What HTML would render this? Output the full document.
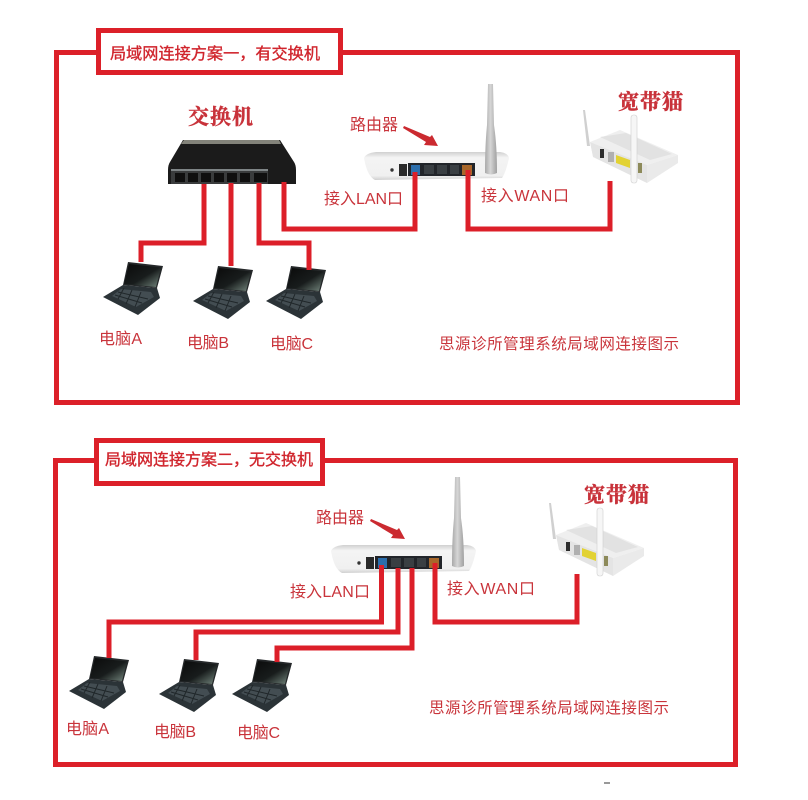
<!DOCTYPE html>
<html><head><meta charset="utf-8"><style>
html,body{margin:0;padding:0;background:#fff}
svg{display:block}
text{font-family:"Liberation Sans","Noto Sans CJK SC",sans-serif;fill:#c9343b}
.t{font-size:16px;font-weight:400;fill:#d0252d;stroke:#d0252d;stroke-width:.35}
.b{font-family:"Noto Serif CJK SC","Liberation Serif",serif;font-size:21px;font-weight:700;fill:#c8323a;stroke:#c8323a;stroke-width:.4}
.l{font-size:16px}
.w{fill:none;stroke:#dc1f29;stroke-width:5;stroke-linejoin:miter}
.f{fill:none;stroke:#dc2029;stroke-width:5}
.bx{fill:#fff;stroke:#dc2029;stroke-width:5}
</style></head><body>
<svg xmlns="http://www.w3.org/2000/svg" width="808" height="800" viewBox="0 0 808 800">
<defs>
<linearGradient id="scr" x1="0" y1="0" x2="1" y2="1"><stop offset="0" stop-color="#0a0a0a"/><stop offset=".55" stop-color="#181c1c"/><stop offset="1" stop-color="#75887f"/></linearGradient>
<linearGradient id="ant" x1="0" y1="0" x2="1" y2="0"><stop offset="0" stop-color="#a8a8a8"/><stop offset=".45" stop-color="#d6d6d6"/><stop offset="1" stop-color="#a0a0a0"/></linearGradient>
<linearGradient id="rb" x1="0" y1="0" x2="0" y2="1"><stop offset="0" stop-color="#d0d0d0"/><stop offset=".2" stop-color="#f4f4f4"/><stop offset=".85" stop-color="#f0f0f0"/><stop offset="1" stop-color="#cfcfcf"/></linearGradient>
<g id="laptop">
<polygon points="-4,22 30,25 33,35 11,52 -24,34" fill="#2b3337"/>
<polygon points="1,-1 36,3 30,25 -4,22" fill="#25282a"/>
<polygon points="2,1 34,4.500 29,24 -3,21" fill="url(#scr)"/>
<polygon points="-6,26 24,29 27,34 9,44 -15,33" fill="#434d52"/>
<g stroke="#20272a" stroke-width="1"><path d="M-9 29L21 36M-12 32L15 40M-3 25L-9 36M5 27L-1 41M14 29L8 44"/></g>
</g>
<g id="router">
<path d="M364 158Q366 153 376 152L500 152Q508 153 509 158Q506 172 502 178L375 180Q367 176 364 158Z" fill="url(#rb)"/>
<rect x="399" y="164" width="8" height="12" fill="#2a2a2a"/>
<circle cx="392" cy="170" r="1.700" fill="#333"/>
<rect x="408" y="163" width="67" height="13" fill="#22252a"/>
<rect x="411" y="165" width="9" height="10" fill="#2c6fad"/>
<rect x="424" y="165" width="10" height="9" fill="#3a3f43"/>
<rect x="437" y="165" width="10" height="9" fill="#3a3f43"/>
<rect x="450" y="165" width="9" height="9" fill="#3a3f43"/>
<rect x="462" y="165" width="10" height="10" fill="#a8672a"/>
<path d="M488 84H493L494 125Q497 145 497 173Q491 176 485 173Q485 145 487 125Z" fill="url(#ant)"/>
<polygon points="404,126 430,137 432,135 438,146 424,145 426,142 403,128" fill="#cb2a30"/>
</g>
<g id="modem">
<polygon points="590,142 620,130 678,155 647,165" fill="#efefef"/>
<polygon points="647,165 678,155 678,163 647,183" fill="#eaeaea"/>
<polygon points="590,142 647,165 647,183 593,157" fill="#e4e4e4"/>
<polygon points="600,137 626,133 672,154 650,160" fill="#e2e2e2"/>
<rect x="600" y="149" width="4" height="9" fill="#2c2c2c"/>
<rect x="608" y="152" width="6" height="10" fill="#b0b0b0"/>
<polygon points="616,155 630,160 630,168 616,163" fill="#e2d233"/>
<rect x="638" y="163" width="4" height="10" fill="#8d8a5a"/>
<polygon points="583,110 585,110 590,146 587,146" fill="#d0d0d0"/>
<rect x="631" y="115" width="6" height="68" rx="2.500" fill="#f6f6f6" stroke="#cfcfcf" stroke-width=".6"/>
</g>
</defs>
<rect width="808" height="800" fill="#fff"/>

<rect class="f" x="56.500" y="52.500" width="681" height="350"/>
<rect class="bx" x="98.500" y="30.500" width="242" height="42"/>
<text class="t" x="110" y="59" textLength="210" lengthAdjust="spacingAndGlyphs">局域网连接方案一，有交换机</text>
<text class="b" x="188" y="124" textLength="65">交换机</text>

<path d="M183 140H280L294 162Q296 165 296 170V184H168V170Q168 165 170 162Z" fill="#1b1b1b"/>
<polygon points="184,140 279,140 281,144 181,144" fill="#83837a"/>
<rect x="171" y="169" width="97" height="15" fill="#3a3c3d"/>
<g fill="#0f0f0f"><rect x="175" y="173" width="10" height="9"/><rect x="188" y="173" width="10" height="9"/><rect x="201" y="173" width="10" height="9"/><rect x="214" y="173" width="10" height="9"/><rect x="227" y="173" width="10" height="9"/><rect x="240" y="173" width="10" height="9"/><rect x="254" y="173" width="13" height="9"/></g>
<rect x="171" y="169" width="97" height="2" fill="#7e8486"/>

<use href="#router"/>
<use href="#modem"/>
<use href="#laptop" x="127" y="263"/>
<use href="#laptop" x="217" y="267"/>
<use href="#laptop" x="290" y="267"/>

<path class="w" d="M468 170V229H610V181"/>
<path class="w" d="M415 172V229H284V182"/>
<path class="w" d="M204 184V243H141V262"/>
<path class="w" d="M231 183V266"/>
<path class="w" d="M259 183V243H309V270"/>

<text class="b" x="618" y="109" textLength="65">宽带猫</text>
<text class="l" x="350" y="130" textLength="48">路由器</text>
<text class="l" x="324" y="204" textLength="79">接入LAN口</text>
<text class="l" x="481" y="201" textLength="88">接入WAN口</text>
<text class="l" x="99" y="344" textLength="43">电脑A</text>
<text class="l" x="187" y="348" textLength="42">电脑B</text>
<text class="l" x="270" y="349" textLength="43">电脑C</text>
<text class="l" x="439" y="349" textLength="240" style="font-size:15.500px">思源诊所管理系统局域网连接图示</text>

<rect class="f" x="55.500" y="460.500" width="680" height="304"/>
<rect class="bx" x="96.500" y="440.500" width="226" height="43"/>
<text class="t" x="105" y="465" textLength="208" lengthAdjust="spacingAndGlyphs">局域网连接方案二，无交换机</text>

<use href="#router" x="-33" y="393"/>
<use href="#modem" x="-34" y="393"/>
<use href="#laptop" x="93" y="657"/>
<use href="#laptop" x="183" y="660"/>
<use href="#laptop" x="256" y="660"/>

<path class="w" d="M435 563V622H577V574"/>
<path class="w" d="M381.500 565V622H109V658"/>
<path class="w" d="M398 568V632H196V660"/>
<path class="w" d="M412 568V648H277V662"/>

<text class="b" x="584" y="502" textLength="65">宽带猫</text>
<text class="l" x="316" y="523" textLength="48">路由器</text>
<text class="l" x="290" y="597" textLength="80">接入LAN口</text>
<text class="l" x="447" y="594" textLength="88">接入WAN口</text>
<text class="l" x="66" y="734" textLength="43">电脑A</text>
<text class="l" x="154" y="737" textLength="42">电脑B</text>
<text class="l" x="237" y="738" textLength="43">电脑C</text>
<text class="l" x="429" y="713" textLength="240" style="font-size:15.500px">思源诊所管理系统局域网连接图示</text>
<rect x="604" y="782" width="6" height="2" fill="#999"/>
</svg>
</body></html>
